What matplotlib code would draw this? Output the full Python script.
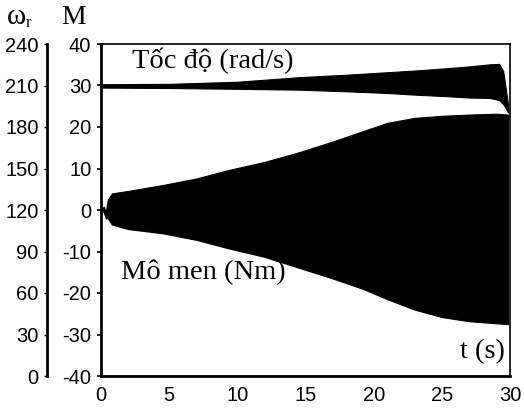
"""Speed / torque transient: dense oscillation drawn as its envelope band."""

import matplotlib

matplotlib.use("Agg")
import matplotlib.pyplot as plt

plt.rcParams["axes.unicode_minus"] = False

# --- data ---------------------------------------------------------------
# speed band (rad/s, read on the omega_r scale)
speed_t = [0, 5, 10, 14.5, 18, 21, 23, 25.5, 27, 28.5, 29.2, 29.5, 29.7, 29.85]
speed_hi = [210.9, 211.2, 212.7, 216.0, 217.8, 219.6, 220.8, 222.6, 223.8,
            225.3, 225.6, 220.5, 207.0, 196.5]
speed_lo = [208.5, 208.2, 207.6, 207.0, 205.8, 204.6, 203.4, 202.2, 201.3,
            201.0, 199.5, 196.5, 193.5, 190.5]

# torque envelope (Nm)
torque_t = [0, 0.2, 0.35, 0.5, 0.8, 2, 4.5, 7, 9.3, 12, 14.3, 17, 19.2, 21,
            23, 25, 27, 29, 29.85]
torque_hi = [0, 0.8, -0.5, 2.5, 4.0, 4.6, 6.0, 7.6, 9.6, 11.6, 13.7, 16.5,
             19.0, 21.0, 22.2, 22.7, 23.0, 23.2, 23.0]
torque_lo = [0, -0.5, -2.0, -2.0, -3.5, -4.6, -5.6, -7.2, -9.2, -11.3, -13.7,
             -16.5, -19.0, -21.5, -24.0, -25.8, -26.8, -27.3, -27.5]

x_ticks = [0, 5, 10, 15, 20, 25, 30]
m_ticks = [-40, -30, -20, -10, 0, 10, 20, 30, 40]
w_ticks = [0, 30, 60, 90, 120, 150, 180, 210, 240]

SANS = "Liberation Sans"
SERIF = "Liberation Serif"
TICK_FS = 14.5
NOTE_FS = 20.5

fig = plt.figure(figsize=(5.24, 4.09), dpi=100)
ax = fig.add_axes([101 / 524, 1 - 376 / 409, 409 / 524, 332 / 409])

# torque band
ax.fill_between(torque_t, torque_lo, torque_hi, color="black", lw=0.8)
ax.set_xlim(0, 30)
ax.set_ylim(-40, 40)
ax.set_xticks(x_ticks)
ax.set_yticks(m_ticks)
ax.tick_params(axis="x", length=0, pad=7, labelsize=TICK_FS)
ax.tick_params(axis="y", length=3, width=1.2, pad=4, labelsize=TICK_FS)
for lab in ax.get_xticklabels() + ax.get_yticklabels():
    lab.set_family(SANS)
for sp in ax.spines.values():
    sp.set_linewidth(1.2)
ax.spines["left"].set_linewidth(2)
ax.spines["bottom"].set_linewidth(2)

# omega_r scale: separate spine further left
ax2 = ax.twinx()
ax2.fill_between(speed_t, speed_lo, speed_hi, color="black", lw=0.8)
ax2.set_ylim(0, 240)
ax2.set_yticks(w_ticks)
ax2.spines["left"].set_position(("axes", -0.132))
ax2.spines["left"].set_linewidth(2)
ax2.spines["right"].set_visible(False)
ax2.spines["top"].set_visible(False)
ax2.spines["bottom"].set_visible(False)
ax2.yaxis.set_ticks_position("left")
ax2.yaxis.set_label_position("left")
ax2.tick_params(axis="y", length=2, width=1, pad=4, labelsize=TICK_FS)
for lab in ax2.get_yticklabels():
    lab.set_family(SANS)

# in-plot labels
ax.text(2.3, 36.0, "Tốc độ (rad/s)", family=SERIF, fontsize=NOTE_FS,
        va="center")
ax.text(1.5, -15, "Mô men (Nm)", family=SERIF, fontsize=NOTE_FS, va="center")
ax.text(29.6, -34.2, "t (s)", family=SERIF, fontsize=NOTE_FS, va="center",
        ha="right")

# axis titles above the two scales
fig.text(16 / 524, 1 - 17 / 409, "ω", fontsize=21, ha="center", va="center",
         family=SERIF)
fig.text(28 / 524, 1 - 23 / 409, "r", fontsize=12, ha="center", va="center",
         family=SERIF)
fig.text(74 / 524, 1 - 17 / 409, "M", fontsize=20, ha="center", va="center",
         family=SERIF)

fig.savefig("out.png", dpi=100)
